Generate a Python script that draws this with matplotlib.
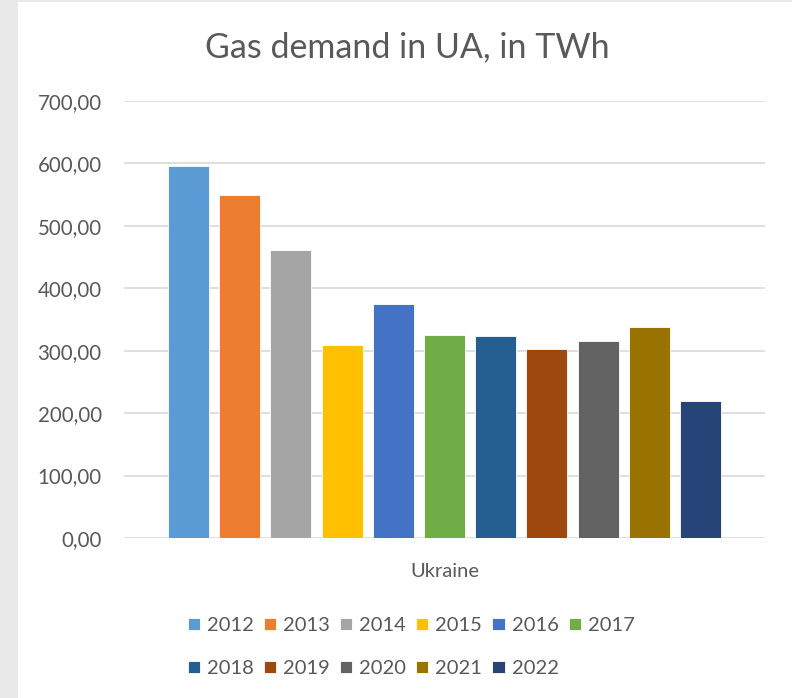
import matplotlib
matplotlib.use("Agg")
import matplotlib.pyplot as plt
from matplotlib.patches import Rectangle

years = ["2012", "2013", "2014", "2015", "2016", "2017",
         "2018", "2019", "2020", "2021", "2022"]
demand = [596, 549, 461, 309, 375, 325, 323, 302, 315, 338, 219]
colors = ["#5B9BD5", "#ED7D31", "#A5A5A5", "#FFC000", "#4472C4", "#70AD47",
          "#255E91", "#9E480E", "#636363", "#997300", "#264478"]
category = "Ukraine"
title = "Gas demand in UA, in TWh"
yticks = [0, 100, 200, 300, 400, 500, 600, 700]

plt.rcParams['font.family'] = ['Lato', 'DejaVu Sans']
W, H = 792, 698
fig = plt.figure(figsize=(W / 100, H / 100), dpi=100)
fig.patch.set_facecolor("white")

# grey frame strips
fig.patches.append(Rectangle((0, 0), 18 / W, 1, transform=fig.transFigure,
                             facecolor="#E8E8E8", edgecolor="none", zorder=0))
fig.patches.append(Rectangle((0, 1 - 2 / H), 1, 2 / H, transform=fig.transFigure,
                             facecolor="#E8E8E8", edgecolor="none", zorder=0))

ax = fig.add_axes([124 / W, 1 - 538 / H, (765 - 124) / W, (538 - 101) / H])
handles = []
for i, (yr, v, c) in enumerate(zip(years, demand, colors)):
    b = ax.bar(i, v, width=0.8, color=c, edgecolor="white", linewidth=0.6,
               label=yr, zorder=3)
    handles.append(b)

ax.set_xlim(5 - 6.26, 5 + 6.26)
ax.set_ylim(0, 700)
ax.set_yticks(yticks)
ax.set_yticklabels([f"{t:.2f}".replace(".", ",") for t in yticks])
ax.set_xticks([5])
ax.set_xticklabels([category])
ax.yaxis.grid(True, color="#D9D9D9", linewidth=1.2, zorder=0)
ax.set_axisbelow(True)
for s in ax.spines.values():
    s.set_visible(False)
ax.tick_params(axis="y", length=0, pad=16, labelsize=14.8, labelcolor="#595959")
ax.tick_params(axis="x", length=0, pad=18, labelsize=14.5, labelcolor="#595959")

fig.text(407 / W, 1 - 47 / H, title, ha="center", va="center",
         fontsize=24.5, color="#595959")

# legend: row-major order for 6 columns
order = [0, 6, 1, 7, 2, 8, 3, 9, 4, 10, 5]
leg = fig.legend([handles[k] for k in order], [years[k] for k in order],
                 ncol=6, loc="upper left",
                 bbox_to_anchor=(188 / W, 1 - 617 / H),
                 frameon=False, fontsize=14.5, labelcolor="#595959",
                 handlelength=0.6, handleheight=0.6, handletextpad=0.35,
                 columnspacing=0.5, labelspacing=1.3, borderpad=0,
                 borderaxespad=0)

fig.savefig("out.png", dpi=100)
